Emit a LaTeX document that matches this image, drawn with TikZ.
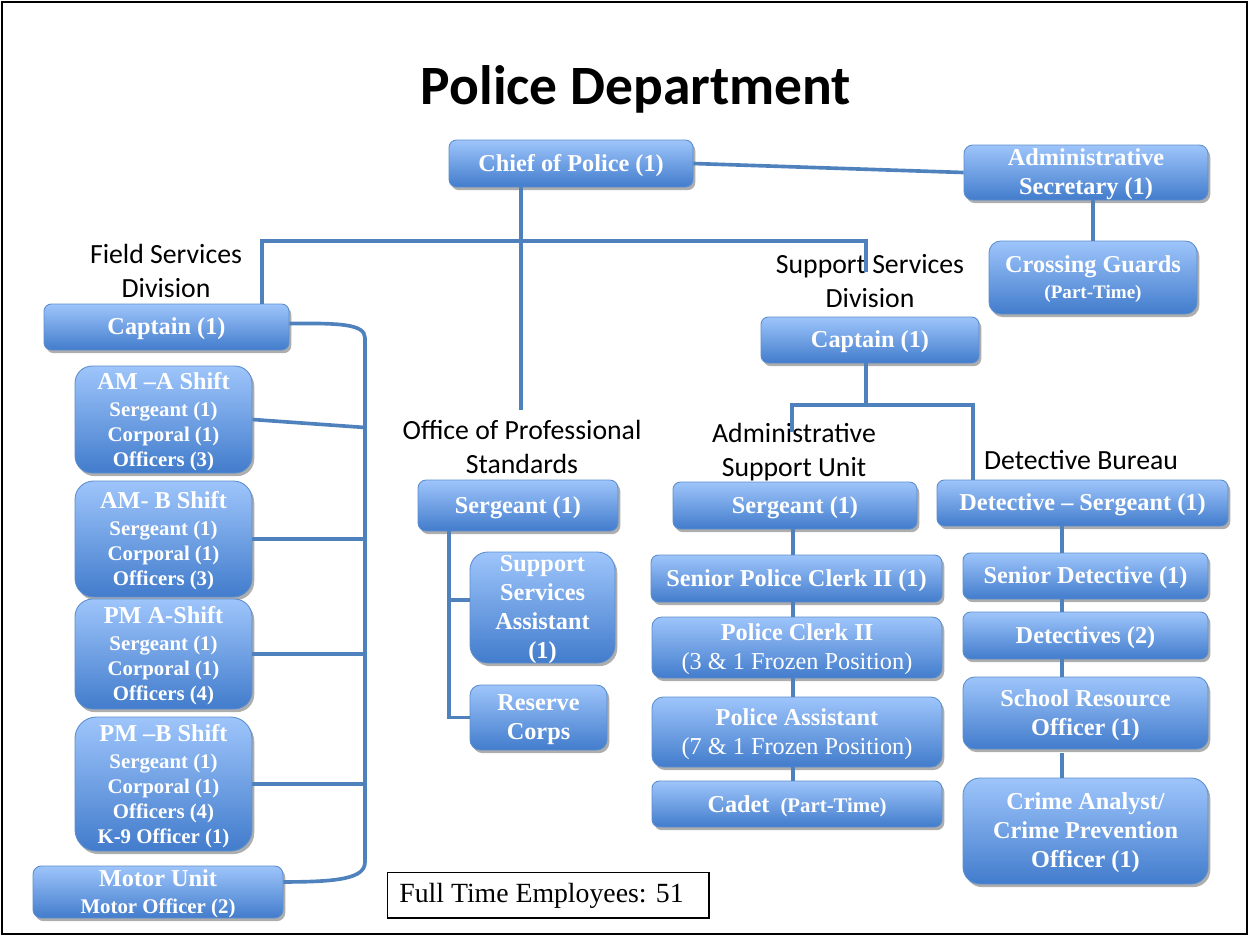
\documentclass[tikz,border=0pt]{standalone}
\usepackage{fontspec}
\setmainfont{Liberation Serif}
\newfontfamily\calibri{Carlito}
\usetikzlibrary{shadows,calc}

\definecolor{boxtop}{RGB}{158,197,251}
\definecolor{boxbot}{RGB}{66,124,204}
\definecolor{boxedge}{RGB}{92,142,204}
\definecolor{linkblue}{RGB}{79,129,189}

% one unit = one slide pixel (slide is 720pt wide)
\newcommand\pxscale{0.57646}

\tikzset{
  orgbox/.style={draw=boxedge, line width=0.5pt, top color=boxtop, bottom color=boxbot,
    inner sep=0pt, drop shadow={shadow xshift=1.3pt, shadow yshift=-1.8pt, opacity=0.45, fill=black!70}},
  boxtext/.style={text=white, font=\bfseries\fontsize{14}{16.8}\selectfont, align=center, inner sep=0pt, yshift=-1.1pt},
  subtext/.style={font=\bfseries\fontsize{12}{14.4}\selectfont},
  lbl/.style={font=\calibri\fontsize{16}{19.5}\selectfont, align=center, inner sep=0pt},
  link/.style={draw=linkblue, line width=2.1pt},
}

% \orgbox[text style]{name}{x1}{y1}{x2}{y2}{text}
\newcommand\orgbox[7][]{%
  \pgfmathsetmacro\bw{(#5-#3)*\pxscale}%
  \pgfmathsetmacro\bh{(#6-#4)*\pxscale}%
  \pgfmathsetmacro\bx{(#3+#5)/2}%
  \pgfmathsetmacro\by{(#4+#6)/2}%
  \pgfmathsetmacro\rc{0.16*min(#5-#3,#6-#4)*\pxscale}%
  \node[orgbox, minimum width=\bw pt, minimum height=\bh pt, rounded corners=\rc pt] (#2) at (\bx,\by) {};
  \node[boxtext,#1] (#2-t) at (#2.center) {#7};}

\begin{document}
\begin{tikzpicture}[x=0.57646pt, y=-0.57646pt]
\useasboundingbox (0,0) rectangle (1249,937);
\draw[line width=1.2pt] (2,2) rectangle (1247,934);

\node[font=\calibri\bfseries\fontsize{32}{38}\selectfont, anchor=base, inner sep=0pt] (title) at (636,104) {Police Department};

% ---- boxes ----
\orgbox{chief}{449}{140}{693}{187}{Chief of Police (1)}
\orgbox{adminsec}{964}{145}{1208}{200}{Administrative\\Secretary (1)}
\orgbox{crossing}{989}{241}{1197}{314}{Crossing Guards\\[-2pt]{\fontsize{11}{13}\selectfont(Part-Time)}}

\orgbox{capL}{44}{304}{289}{350}{Captain (1)}
\orgbox[subtext]{amA}{75}{366}{252}{473}{{\fontsize{14}{16.8}\selectfont AM –A Shift}\\[1.2pt]Sergeant (1)\\Corporal (1)\\Officers (3)}
\orgbox[subtext]{amB}{75}{481}{252}{597}{{\fontsize{14}{16.8}\selectfont AM- B Shift}\\[1.2pt]Sergeant (1)\\Corporal (1)\\Officers (3)}
\orgbox[subtext]{pmA}{75}{599}{252}{709}{{\fontsize{14}{16.8}\selectfont PM A-Shift}\\[1.2pt]Sergeant (1)\\Corporal (1)\\Officers (4)}
\orgbox[subtext]{pmB}{75}{717}{252}{851}{{\fontsize{14}{16.8}\selectfont PM –B Shift}\\[1.2pt]Sergeant (1)\\Corporal (1)\\Officers (4)\\K-9 Officer (1)}
\orgbox[subtext]{motor}{33}{866}{283}{918}{{\fontsize{14}{16.8}\selectfont Motor Unit}\\[1.2pt]Motor Officer (2)}

\orgbox{opssgt}{418}{480}{618}{531}{Sergeant (1)}
\orgbox{ssa}{470}{552}{615}{663}{Support\\Services\\Assistant\\(1)}
\orgbox{reserve}{470}{685}{607}{750}{Reserve\\Corps}

\orgbox{capR}{761}{317}{979}{363}{Captain (1)}
\orgbox{asusgt}{673}{482}{917}{529}{Sergeant (1)}
\orgbox{clerkA}{651}{555}{942}{602}{Senior Police Clerk II (1)}
\orgbox{clerkB}{652}{617}{942}{678}{Police Clerk II\\{\mdseries(3 \& 1 Frozen Position)}}
\orgbox{assist}{652}{697}{942}{767}{Police Assistant\\{\mdseries(7 \& 1 Frozen Position)}}
\orgbox{cadet}{652}{781}{942}{827}{Cadet\hspace{0.45em}{\fontsize{12}{14}\selectfont(Part-Time)}}

\orgbox{detsgt}{937}{480}{1228}{526}{Detective – Sergeant (1)}
\orgbox{detA}{963}{553}{1208}{599}{Senior Detective (1)}
\orgbox{detB}{963}{612}{1208}{659}{Detectives (2)}
\orgbox{sro}{963}{677}{1208}{749}{School Resource\\Officer (1)}
\orgbox{crime}{963}{778}{1208}{884}{Crime Analyst/\\Crime Prevention\\Officer (1)}

% ---- unit labels ----
\node[lbl] (fsd) at (166,271) {Field Services\\Division};
\node[lbl] (ops) at (522,447) {Office of Professional\\Standards};
\node[lbl] (ssd) at (870,281) {Support Services\\Division};
\node[lbl] (asu) at (794,452) {Administrative\\Support Unit};
\node[lbl] (dbu) at (1081,460) {Detective Bureau};

% ---- connectors ----
\coordinate (opsEnd) at (521,410);
\coordinate (busL) at (262,241);
\coordinate (busR) at (866,241);
\coordinate (ssdEnd) at (866,272);
\coordinate (spTop) at (365,338);
\coordinate (spBot) at (365,862);
\coordinate (rbus) at (866,405);
\coordinate (rbusL) at (792,405);
\coordinate (rbusR) at (973,405);
\coordinate (asuEnd) at (792,432);
\coordinate (opsX) at (449,0);
\coordinate (asuX) at (793,0);
\coordinate (detX) at (1062,0);

\draw[link] (chief.east) -- (adminsec.west);
\draw[link] (adminsec.south -| crossing.north) -- (crossing.north);
\draw[link] (chief.south -| opsEnd) -- (opsEnd);
\draw[link] (capL.north -| busL) -- (busL) -- (busR) -- (ssdEnd);

\draw[link] ([yshift=2pt]capL.east) .. controls (340,323) and (365,324) .. (spTop)
  -- (spBot) .. controls (365,878) and (340,882) .. ([yshift=5.8pt]motor.east);
\draw[link] (amA.east) -- ([yshift=-4.6pt]amA.east -| spTop);
\draw[link] (amB.east) -- (amB.east -| spTop);
\draw[link] (pmA.east) -- (pmA.east -| spTop);
\draw[link] (pmB.east) -- (pmB.east -| spTop);

\draw[link] (opssgt.south -| opsX) -- (reserve.west -| opsX) -- (reserve.west);
\draw[link] ([yshift=4.3pt]ssa.west -| opsX) -- ([yshift=4.3pt]ssa.west);

\draw[link] (capR.south -| rbus) -- (rbus);
\draw[link] (asuEnd) -- (rbusL) -- (rbusR) -- (rbusR |- detsgt.north);

\draw[link] (asusgt.south -| asuX) -- (clerkA.north -| asuX);
\draw[link] (clerkA.south -| asuX) -- (clerkB.north -| asuX);
\draw[link] (clerkB.south -| asuX) -- (assist.north -| asuX);
\draw[link] (assist.south -| asuX) -- (cadet.north -| asuX);

\draw[link] (detsgt.south -| detX) -- (detA.north -| detX);
\draw[link] (detA.south -| detX) -- (detB.north -| detX);
\draw[link] (detB.south -| detX) -- (sro.north -| detX);
\draw[link] ([yshift=-2pt]sro.south -| detX) -- (crime.north -| detX);

% ---- staff count ----
\node[draw=black, line width=0.6pt, minimum width=185.6pt, minimum height=26.5pt, inner sep=0pt] (fte) at (548,895) {};
\node[anchor=west, font=\fontsize{16}{19}\selectfont, inner sep=0pt] (fte-t) at (399,896) {Full Time Employees: 51};
\end{tikzpicture}
\end{document}
